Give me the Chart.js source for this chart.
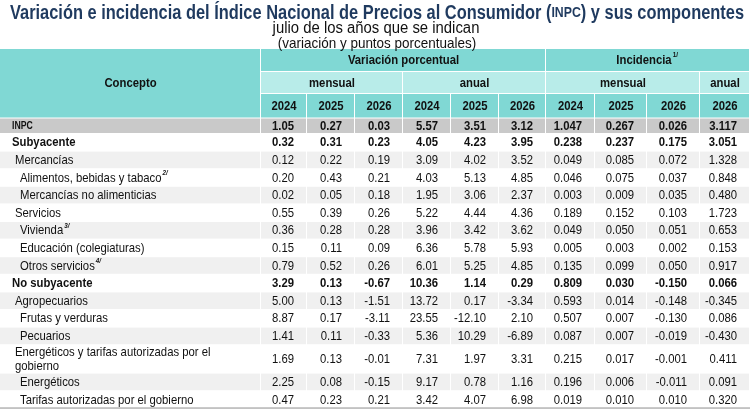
<!DOCTYPE html>
<html>
<head>
<meta charset="UTF-8">
<title>Variación e incidencia del INPC</title>
<script src="https://cdn.jsdelivr.net/npm/chart.js"></script>
<style>
    body { margin: 0; background: #ffffff; }
    #wrap { width: 750px; height: 410px; }
</style>
</head>
<body>
<div id="wrap"><canvas id="tabla" width="750" height="410"></canvas></div>
<script>
// Data
const concepts = ['INPC', 'Subyacente', 'Mercancías', 'Alimentos, bebidas y tabaco',
    'Mercancías no alimenticias', 'Servicios', 'Vivienda', 'Educación (colegiaturas)',
    'Otros servicios', 'No subyacente', 'Agropecuarios', 'Frutas y verduras', 'Pecuarios',
    'Energéticos y tarifas autorizadas por el gobierno', 'Energéticos',
    'Tarifas autorizadas por el gobierno'];
const notes = ['', '', '', '2/', '', '', '3/', '', '4/', '', '', '', '', '', '', ''];
const levels = [0, 0, 1, 2, 2, 1, 2, 2, 2, 0, 1, 2, 2, 1, 2, 2];
const boldRows = ['INPC', 'Subyacente', 'No subyacente'];

const groupLabels = ['Variación porcentual', 'Incidencia'];
const groupNotes = ['', '1/'];
const periodLabels = ['mensual', 'anual', 'mensual', 'anual'];
const yearLabels = ['2024', '2025', '2026', '2024', '2025', '2026', '2024', '2025', '2026', '2026'];

const varMensual2024 = [1.05, 0.32, 0.12, 0.20, 0.02, 0.55, 0.36, 0.15, 0.79, 3.29, 5.00, 8.87, 1.41, 1.69, 2.25, 0.47];
const varMensual2025 = [0.27, 0.31, 0.22, 0.43, 0.05, 0.39, 0.28, 0.11, 0.52, 0.13, 0.13, 0.17, 0.11, 0.13, 0.08, 0.23];
const varMensual2026 = [0.03, 0.23, 0.19, 0.21, 0.18, 0.26, 0.28, 0.09, 0.26, -0.67, -1.51, -3.11, -0.33, -0.01, -0.15, 0.21];
const varAnual2024 = [5.57, 4.05, 3.09, 4.03, 1.95, 5.22, 3.96, 6.36, 6.01, 10.36, 13.72, 23.55, 5.36, 7.31, 9.17, 3.42];
const varAnual2025 = [3.51, 4.23, 4.02, 5.13, 3.06, 4.44, 3.42, 5.78, 5.25, 1.14, 0.17, -12.10, 10.29, 1.97, 0.78, 4.07];
const varAnual2026 = [3.12, 3.95, 3.52, 4.85, 2.37, 4.36, 3.62, 5.93, 4.85, 0.29, -3.34, 2.10, -6.89, 3.31, 1.16, 6.98];
const incMensual2024 = [1.047, 0.238, 0.049, 0.046, 0.003, 0.189, 0.049, 0.005, 0.135, 0.809, 0.593, 0.507, 0.087, 0.215, 0.196, 0.019];
const incMensual2025 = [0.267, 0.237, 0.085, 0.075, 0.009, 0.152, 0.050, 0.003, 0.099, 0.030, 0.014, 0.007, 0.007, 0.017, 0.006, 0.010];
const incMensual2026 = [0.026, 0.175, 0.072, 0.037, 0.035, 0.103, 0.051, 0.002, 0.050, -0.150, -0.148, -0.130, -0.019, -0.001, -0.011, 0.010];
const incAnual2026 = [3.117, 3.051, 1.328, 0.848, 0.480, 1.723, 0.653, 0.153, 0.917, 0.066, -0.345, 0.086, -0.430, 0.411, 0.091, 0.320];

const series = [varMensual2024, varMensual2025, varMensual2026, varAnual2024, varAnual2025,
    varAnual2026, incMensual2024, incMensual2025, incMensual2026, incAnual2026];
const decimals = [2, 2, 2, 2, 2, 2, 3, 3, 3, 3];

// Layout (widths / heights in scale units)
const COL_W = [261, 46, 48, 48, 48, 48, 47, 49, 52, 53, 50];
const HEAD_H = [23, 22, 24.5];
const ROW_H = concepts.map((c, i) => i === 0 ? 15.5 : (c.length > 40 ? 28.4 : 17.6));
const groupSpan = [[1, 6], [7, 10]];
const periodSpan = [[1, 3], [4, 6], [7, 9], [10, 10]];

const colEdge = [0];
COL_W.forEach(w => colEdge.push(colEdge[colEdge.length - 1] + w));
const rowEdge = [0];
HEAD_H.concat(ROW_H).forEach(h => rowEdge.push(rowEdge[rowEdge.length - 1] + h));
const totalH = Math.max(rowEdge[rowEdge.length - 1] + 0.5, 361);

const TEAL = '#80d8d4';
const TEAL_LIGHT = '#b8ece9';
const FONT = '"Liberation Sans", Arial, sans-serif';
const SX = 0.87;

function drawText(ctx, s, x, y, font, align, color, sx) {
    ctx.save();
    ctx.font = font;
    ctx.fillStyle = color || '#111';
    ctx.textBaseline = 'middle';
    ctx.textAlign = 'left';
    const w = ctx.measureText(s).width * sx;
    let x0 = x;
    if (align === 'center') x0 = x - w / 2;
    if (align === 'right') x0 = x - w;
    ctx.translate(x0, y);
    ctx.scale(sx, 1);
    ctx.fillText(s, 0, 0);
    ctx.restore();
    return w;
}

function textWidth(ctx, s, font, sx) {
    ctx.save();
    ctx.font = font;
    const w = ctx.measureText(s).width * sx;
    ctx.restore();
    return w;
}

const tablePlugin = {
    id: 'tabla',
    beforeDraw(chart) {
        const ctx = chart.ctx;
        const x = chart.scales.x, y = chart.scales.y;
        const px = v => x.getPixelForValue(v);
        const py = v => y.getPixelForValue(v);
        const cell = (c0, c1, r0, r1, color) => {
            ctx.fillStyle = color;
            const l = px(colEdge[c0]), r = px(colEdge[c1 + 1]);
            const t = py(rowEdge[r0]), b = py(rowEdge[r1 + 1]);
            ctx.fillRect(l, t, r - l - 1, b - t - 1);
        };
        ctx.save();
        // header cells
        cell(0, 0, 0, 2, TEAL);
        groupSpan.forEach(s => cell(s[0], s[1], 0, 0, TEAL));
        periodSpan.forEach(s => cell(s[0], s[1], 1, 1, TEAL_LIGHT));
        yearLabels.forEach((_, i) => cell(i + 1, i + 1, 2, 2, TEAL));
        // body rows
        concepts.forEach((_, i) => {
            const color = i === 0 ? '#c9c9c9' : (i % 2 === 0 ? '#f0f0f0' : '#ffffff');
            for (let c = 0; c < COL_W.length; c++) cell(c, c, i + 3, i + 3, color);
        });
        // bottom rule
        const yb = py(rowEdge[rowEdge.length - 1]);
        ctx.fillStyle = '#b4b4b4';
        ctx.fillRect(px(0), yb - 1.5, px(colEdge[colEdge.length - 1]) - px(0), 1.5);
        ctx.restore();
    },
    afterDraw(chart) {
        const ctx = chart.ctx;
        const x = chart.scales.x, y = chart.scales.y;
        const px = v => x.getPixelForValue(v);
        const py = v => y.getPixelForValue(v);
        const midY = (r0, r1) => (py(rowEdge[r0]) + py(rowEdge[r1 + 1])) / 2;
        const midX = (c0, c1) => (px(colEdge[c0]) + px(colEdge[c1 + 1])) / 2;

        // title block
        const tFont = 'bold 20px ' + FONT, tSmall = 'bold 15px ' + FONT;
        const parts = [['Variación e incidencia del Índice Nacional de Precios al Consumidor (', tFont],
            ['INPC', tSmall], [') y sus componentes', tFont]];
        let natural = 0;
        parts.forEach(p => natural += textWidth(ctx, p[0], p[1], 1));
        const tsx = 734 / natural;
        let tx = chart.width / 2 - 734 / 2 + 2;
        parts.forEach(p => { tx += drawText(ctx, p[0], tx, 13, p[1], 'left', '#1f3a5f', tsx); });
        drawText(ctx, 'julio de los años que se indican', 376, 28.5, '16px ' + FONT, 'center', '#111', 0.93);
        drawText(ctx, '(variación y puntos porcentuales)', 377, 44, '14.5px ' + FONT, 'center', '#111', 0.93);

        // header text
        const hFont = 'bold 13px ' + FONT;
        drawText(ctx, 'Concepto', midX(0, 0), midY(0, 2), hFont, 'center', '#111', SX);
        groupLabels.forEach((g, i) => {
            const s = groupSpan[i];
            const w = drawText(ctx, g, midX(s[0], s[1]) - (groupNotes[i] ? 4 : 0), midY(0, 0), hFont, 'center', '#111', SX);
            if (groupNotes[i]) {
                drawText(ctx, groupNotes[i], midX(s[0], s[1]) - 4 + w / 2 + 1, midY(0, 0) - 5, 'bold 7px ' + FONT, 'left', '#111', 0.9);
            }
        });
        periodLabels.forEach((p, i) => {
            const s = periodSpan[i];
            drawText(ctx, p, midX(s[0], s[1]), midY(1, 1), hFont, 'center', '#111', SX);
        });
        yearLabels.forEach((yl, i) => {
            drawText(ctx, yl, midX(i + 1, i + 1), midY(2, 2), hFont, 'center', '#111', SX);
        });

        // body text
        const indent = [12, 15, 20];
        concepts.forEach((c, i) => {
            const r = i + 3;
            const bold = boldRows.includes(c);
            const font = c === 'INPC' ? 'bold 10px ' + FONT : (bold ? 'bold 13px ' : '13px ') + FONT;
            const lx = px(indent[levels[i]]);
            const maxW = px(colEdge[1]) - lx - 10;
            // simple word wrap
            const words = c.split(' ');
            const lines = [];
            let line = '';
            words.forEach(wd => {
                const test = line ? line + ' ' + wd : wd;
                if (textWidth(ctx, test, font, SX) > maxW && line) { lines.push(line); line = wd; }
                else line = test;
            });
            lines.push(line);
            const my = midY(r, r);
            const lh = 13.5;
            lines.forEach((ln, k) => {
                const ly = my + (k - (lines.length - 1) / 2) * lh;
                const w = drawText(ctx, ln, lx, ly, font, 'left', '#111', SX);
                if (notes[i] && k === lines.length - 1) {
                    drawText(ctx, notes[i], lx + w + 1, ly - 5, 'italic bold 7px ' + FONT, 'left', '#111', 0.9);
                }
            });
            series.forEach((arr, s) => {
                const v = arr[i].toFixed(decimals[s]);
                const nFont = (bold ? 'bold 13px ' : '13px ') + FONT;
                drawText(ctx, v, px(colEdge[s + 2]) - 13, my, nFont, 'right', '#111', SX);
            });
        });
    }
};

new Chart(document.getElementById('tabla'), {
    type: 'scatter',
    data: { datasets: [] },
    options: {
        responsive: false,
        animation: false,
        devicePixelRatio: 1,
        layout: { padding: { top: 49, left: 0, right: 0, bottom: 0 } },
        plugins: { legend: { display: false }, tooltip: { enabled: false } },
        scales: {
            x: { type: 'linear', min: 0, max: colEdge[colEdge.length - 1], display: false },
            y: { type: 'linear', min: 0, max: totalH, reverse: true, display: false }
        }
    },
    plugins: [tablePlugin]
});
</script>
</body>
</html>
